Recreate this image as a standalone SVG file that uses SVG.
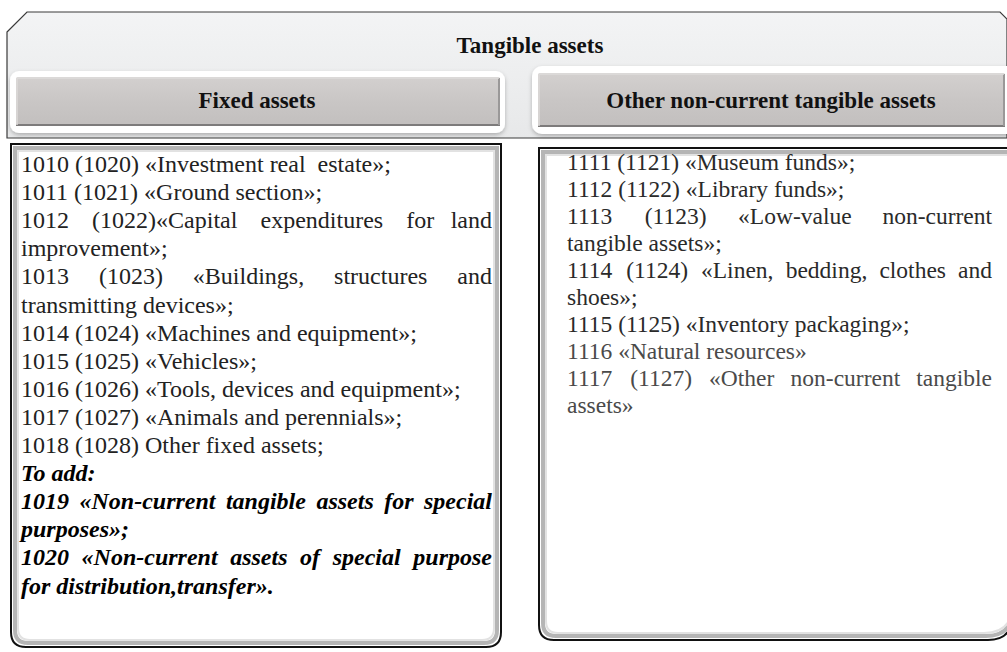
<svg xmlns="http://www.w3.org/2000/svg" width="1007" height="652" viewBox="0 0 1007 652">
<defs>
<linearGradient id="gOuter" x1="0" y1="0" x2="0" y2="1">
<stop offset="0" stop-color="#f3f4f5"/><stop offset="1" stop-color="#e7e8e9"/>
</linearGradient>
<linearGradient id="gHead" x1="0" y1="0" x2="0" y2="1">
<stop offset="0" stop-color="#d3d0cf"/><stop offset="0.5" stop-color="#c9c6c5"/><stop offset="1" stop-color="#c2bfbe"/>
</linearGradient>
<filter id="shadow" x="-5%" y="-20%" width="110%" height="150%">
<feDropShadow dx="0" dy="2" stdDeviation="2" flood-color="#000" flood-opacity="0.25"/>
</filter>
</defs>
<style>
.reg{font-family:"Liberation Serif","Times New Roman",serif;font-size:24px;fill:#222}
.rr{font-family:"Liberation Serif","Times New Roman",serif;font-size:23.5px;fill:#2a2a2a}
.lt{fill:#4a4a4a}
.bi{font-family:"Liberation Serif","Times New Roman",serif;font-size:24px;font-weight:bold;font-style:italic;fill:#000}
.hd{font-family:"Liberation Serif","Times New Roman",serif;font-size:23px;font-weight:bold;fill:#111;text-anchor:middle}
.frameOut{fill:#fff;stroke:#111;stroke-width:2}
.frameIn{fill:none;stroke:#b5b5b5;stroke-width:4}
.frameIn2{fill:none;stroke:#e2e2e2;stroke-width:2}
</style>

<g id="tangible-assets">
<path d="M7,32 L27,12 L1000,12 L1007,19 L1007,138 L7,138 Z" fill="url(#gOuter)" stroke="#3a3a3a" stroke-width="1.2"/>
<text class="hd" x="530" y="53">Tangible assets</text>
</g>

<g id="fixed-assets-header">
<rect x="10" y="71" width="495" height="62" rx="9" fill="#fff" filter="url(#shadow)"/>
<rect x="16" y="77" width="484" height="49" rx="2" fill="url(#gHead)"/>
<path d="M16,125 L500,125" stroke="#7d7b7b" stroke-width="2"/>
<path d="M499,78 L499,125" stroke="#9a9898" stroke-width="2"/>
<path d="M17,78 L499,78" stroke="#dedcdb" stroke-width="1.5"/>
<path d="M17,78 L17,125" stroke="#dcdad9" stroke-width="1.5"/>
<text class="hd" x="257" y="108">Fixed assets</text>
</g>

<g id="other-header">
<rect x="532" y="66" width="485" height="68" rx="10" fill="#fff" filter="url(#shadow)"/>
<rect x="538" y="73" width="467" height="54" rx="2" fill="url(#gHead)"/>
<path d="M538,126 L1005,126" stroke="#7d7b7b" stroke-width="2"/>
<path d="M1004,74 L1004,126" stroke="#9a9898" stroke-width="2"/>
<path d="M539,74 L1004,74" stroke="#dedcdb" stroke-width="1.5"/>
<path d="M539,74 L539,126" stroke="#dcdad9" stroke-width="1.5"/>
<text class="hd" x="771" y="108">Other non-current tangible assets</text>
</g>

<g id="fixed-assets-list">
<path class="frameOut" d="M11,144 L501,144 L501,632 Q501,647 486,647 L26,647 Q11,647 11,632 Z"/>
<path class="frameIn" d="M15,148 L497,148 L497,630 Q497,643 484,643 L28,643 Q15,643 15,630 Z"/>
<path class="frameIn2" d="M18,151 L494,151 L494,628 Q494,640 482,640 L30,640 Q18,640 18,628 Z"/>
<text class="reg" x="21" y="172" xml:space="preserve">1010 (1020) «Investment real  estate»;</text>
<text class="reg" x="21" y="200.1">1011 (1021) «Ground section»;</text>
<text class="reg" y="228.2"><tspan x="21">1012</tspan><tspan x="92.1">(1022)«Capital</tspan><tspan x="260.5">expenditures</tspan><tspan x="406.2">for</tspan></text>
<text class="reg" x="492" y="228.2" text-anchor="end">land</text>
<text class="reg" x="21" y="256.3">improvement»;</text>
<text class="reg" y="284.4"><tspan x="21">1013</tspan><tspan x="98.9">(1023)</tspan><tspan x="192.8">«Buildings,</tspan><tspan x="334.1">structures</tspan></text>
<text class="reg" x="492" y="284.4" text-anchor="end">and</text>
<text class="reg" x="21" y="312.5">transmitting devices»;</text>
<text class="reg" x="21" y="340.6">1014 (1024) «Machines and equipment»;</text>
<text class="reg" x="21" y="368.7">1015 (1025) «Vehicles»;</text>
<text class="reg" x="21" y="396.8">1016 (1026) «Tools, devices and equipment»;</text>
<text class="reg" x="21" y="424.9">1017 (1027) «Animals and perennials»;</text>
<text class="reg" x="21" y="453">1018 (1028) Other fixed assets;</text>
<text class="bi" x="21" y="481.1">To add:</text>
<text class="bi" y="509.2"><tspan x="21">1019</tspan><tspan x="79.5">«Non-current</tspan><tspan x="225.9">tangible</tspan><tspan x="316.4">assets</tspan><tspan x="384.2">for</tspan></text>
<text class="bi" x="492" y="509.2" text-anchor="end">special</text>
<text class="bi" x="21" y="537.3">purposes»;</text>
<text class="bi" y="565.4"><tspan x="21">1020</tspan><tspan x="81.6">«Non-current</tspan><tspan x="230.2">assets</tspan><tspan x="300.1">of</tspan><tspan x="332.7">special</tspan></text>
<text class="bi" x="492" y="565.4" text-anchor="end">purpose</text>
<text class="bi" x="21" y="593.5">for distribution,transfer».</text>
</g>

<g id="other-list">
<path class="frameOut" d="M539,148 L1012,148 L1012,616 Q1012,640 988,640 L554,640 Q539,640 539,625 Z"/>
<path class="frameIn" d="M543,152 L1012,152 L1012,614 Q1010,636 986,636 L556,636 Q543,636 543,623 Z"/>
<path class="frameIn2" d="M546,155 L1012,155 L1012,612 Q1008,633 984,633 L558,633 Q546,633 546,621 Z"/>
<text class="rr" x="567" y="170">1111 (1121) «Museum funds»;</text>
<text class="rr" x="567" y="197">1112 (1122) «Library funds»;</text>
<text class="rr" y="224"><tspan x="567">1113</tspan><tspan x="644.7">(1123)</tspan><tspan x="738.1">«Low-value</tspan></text>
<text class="rr" x="992" y="224" text-anchor="end">non-current</text>
<text class="rr" x="567" y="251">tangible assets»;</text>
<text class="rr" y="278"><tspan x="567">1114</tspan><tspan x="626.2">(1124)</tspan><tspan x="701">«Linen,</tspan><tspan x="785.7">bedding,</tspan><tspan x="879.4">clothes</tspan></text>
<text class="rr" x="992" y="278" text-anchor="end">and</text>
<text class="rr" x="567" y="305">shoes»;</text>
<text class="rr" x="567" y="332">1115 (1125) «Inventory packaging»;</text>
<text class="rr lt" x="567" y="359">1116 «Natural resources»</text>
<text class="rr lt" y="386"><tspan x="567">1117</tspan><tspan x="630.2">(1127)</tspan><tspan x="709.1">«Other</tspan><tspan x="790.6">non-current</tspan></text>
<text class="rr lt" x="992" y="386" text-anchor="end">tangible</text>
<text class="rr lt" x="567" y="413">assets»</text>
</g>
</svg>
